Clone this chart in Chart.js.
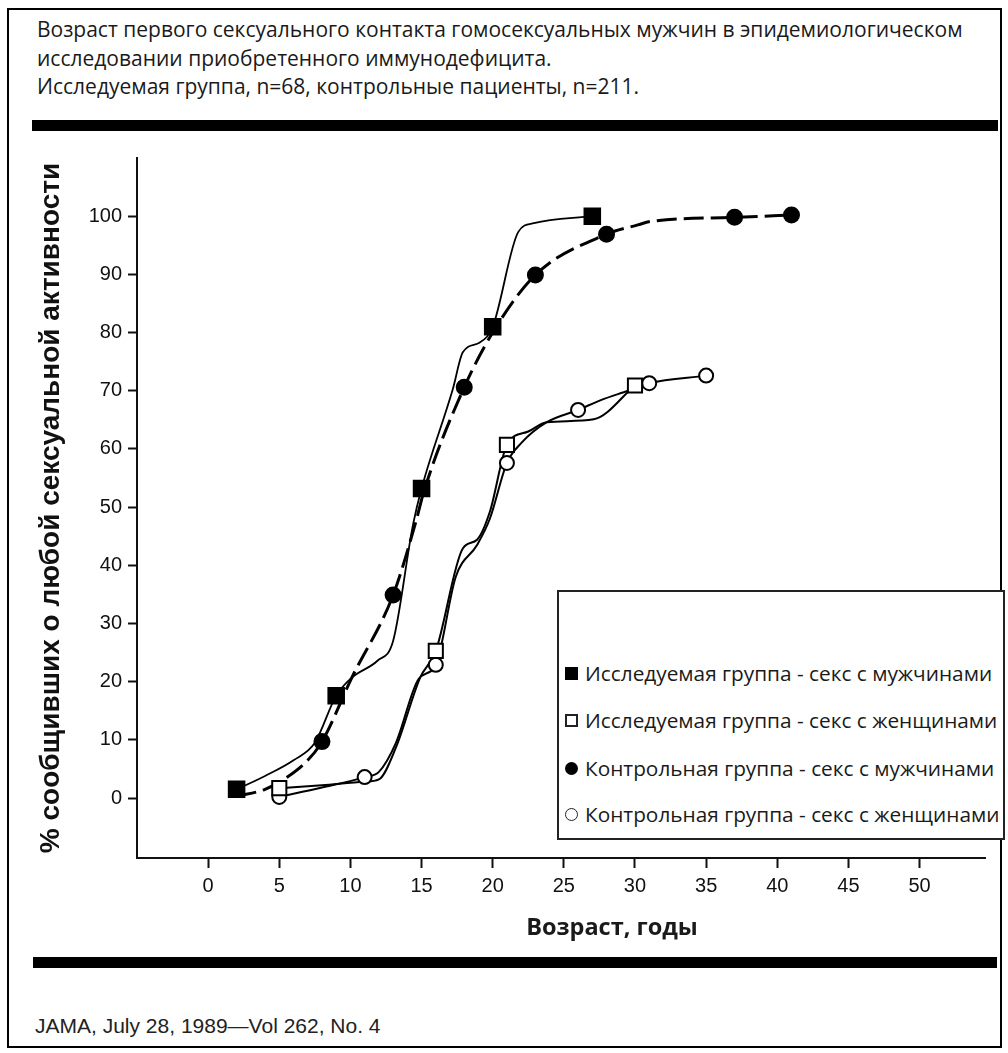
<!DOCTYPE html>
<html><head><meta charset="utf-8">
<script src="https://cdn.jsdelivr.net/npm/chart.js@4.4.0/dist/chart.umd.min.js"></script>
<style>
html,body{margin:0;padding:0;background:#fff;}
body{width:1008px;height:1053px;position:relative;overflow:hidden;font-family:"Open Sans",sans-serif;color:#1a1a1a;}
#frame{position:absolute;left:7px;top:8px;width:995px;height:1040px;border:2px solid #000;box-sizing:border-box;}
#title{position:absolute;left:37px;top:15px;font-size:21px;line-height:28.5px;white-space:nowrap;}
.bar{position:absolute;background:#000;height:11px;}
#chartBox{position:absolute;left:0;top:140px;width:1008px;height:800px;}
#xtitle{position:absolute;top:911px;left:612px;transform:translateX(-50%);font-weight:bold;font-size:23.5px;line-height:30px;white-space:nowrap;}
#footer{position:absolute;left:35px;top:1015px;font-family:"Liberation Sans",Arial,sans-serif;font-size:21px;line-height:21px;white-space:nowrap;color:#222;}
#legend{position:absolute;left:557px;top:590px;width:448px;height:250px;border:2px solid #222;box-sizing:border-box;background:#fff;}
.row{position:absolute;left:26px;font-size:20.8px;line-height:27px;white-space:nowrap;}
.mk{position:absolute;left:6px;width:13px;height:13px;box-sizing:border-box;}
</style>
</head><body>
<div id="frame"></div>
<div id="title">Возраст первого сексуального контакта гомосексуальных мужчин в эпидемиологическом<br>исследовании приобретенного иммунодефицита.<br>Исследуемая группа, n=68, контрольные пациенты, n=211.</div>
<div class="bar" style="left:32px;top:120px;width:966px;"></div>
<div id="chartBox"><canvas id="c"></canvas></div>
<div id="legend"></div>
<div id="xtitle">Возраст, годы</div>
<div class="bar" style="left:33px;top:957px;width:964px;"></div>
<div id="footer">JAMA, July 28, 1989—Vol 262, No. 4</div>
<script>
// ---- data ----
const xTickValues = [0, 5, 10, 15, 20, 25, 30, 35, 40, 45, 50];
const yTickValues = [0, 10, 20, 30, 40, 50, 60, 70, 80, 90, 100];
const seriesNames = [
  "Исследуемая группа - секс с мужчинами",
  "Исследуемая группа - секс с женщинами",
  "Контрольная группа - секс с мужчинами",
  "Контрольная группа - секс с женщинами"
];
const yAxisTitle = "% сообщивших о любой сексуальной активности";

// marker points (age, %)
const studyMenAge = [2, 9, 15, 20, 27];
const studyMenPct = [1.5, 17.6, 53.2, 81, 100];
const studyWomenAge = [5, 16, 21, 30];
const studyWomenPct = [1.7, 25.3, 60.7, 70.9];
const controlMenAge = [8, 13, 18, 23, 28, 37, 41];
const controlMenPct = [9.7, 34.9, 70.6, 89.9, 96.9, 99.8, 100.2];
const controlWomenAge = [5, 11, 16, 21, 26, 31, 35];
const controlWomenPct = [0.2, 3.6, 22.9, 57.6, 66.7, 71.3, 72.6];

// traced curve vertices (age, %)
const studyMenCurveAge = [2, 4, 6, 7.5, 9, 10.1, 11.9, 13, 14.4, 15, 17.2, 17.9, 19.1, 20, 21.8, 22.9, 27];
const studyMenCurvePct = [1.5, 3.8, 6.5, 9.5, 17.6, 20.7, 23.6, 27, 47, 53.2, 70.3, 76.6, 78.3, 81, 97.3, 98.8, 100];
const studyWomenCurveAge = [5, 8, 11, 12, 13.2, 14.9, 16, 17.9, 18.9, 19.8, 21, 22.5, 23.8, 27.1, 30];
const studyWomenCurvePct = [1.7, 2.2, 2.8, 3.2, 8.7, 20.7, 25.3, 42.9, 44.4, 49.2, 60.7, 63, 64.6, 65.1, 70.9];
const controlMenCurveAge = [2, 4, 5.5, 7, 8, 10.1, 13, 14.6, 15.2, 18, 20, 23, 28, 30.2, 31.1, 37, 41];
const controlMenCurvePct = [0.3, 1.5, 3.5, 6.5, 9.7, 20.7, 34.9, 47.5, 53, 70.6, 80, 89.9, 96.9, 98.5, 99.1, 99.8, 100.2];
const controlWomenCurveAge = [5, 8, 11, 12, 13.2, 14.8, 16, 17.4, 18.9, 19.8, 21, 22, 23.8, 26, 27.6, 29.5, 31, 35];
const controlWomenCurvePct = [0.2, 1.8, 3.6, 4.5, 9.5, 20.5, 22.9, 38, 43.5, 48, 57.6, 61, 64.6, 66.7, 68.4, 70, 71.3, 72.6];

// ---- build ----
const pts = (xs, ys) => xs.map((x, i) => ({x: x, y: ys[i]}));

function markerSet(label, xs, ys, style, radius, fill) {
  return {label: label, data: pts(xs, ys), showLine: false, order: 0,
    pointStyle: style, pointRadius: radius, pointHoverRadius: radius,
    pointBackgroundColor: fill, pointBorderColor: '#000', pointBorderWidth: 2};
}
function curveSet(label, xs, ys, width, dash) {
  return {label: label, data: pts(xs, ys), order: 1, pointRadius: 0, borderColor: '#000',
    borderWidth: width, borderDash: dash, fill: false, cubicInterpolationMode: 'monotone'};
}

const datasets = [
  markerSet(seriesNames[0], studyMenAge, studyMenPct, 'rect', 11, '#000'),
  markerSet(seriesNames[1], studyWomenAge, studyWomenPct, 'rect', 10, '#fff'),
  markerSet(seriesNames[2], controlMenAge, controlMenPct, 'circle', 7.5, '#000'),
  markerSet(seriesNames[3], controlWomenAge, controlWomenPct, 'circle', 7, '#fff'),
  curveSet(seriesNames[0], studyMenCurveAge, studyMenCurvePct, 1.8, []),
  curveSet(seriesNames[1], studyWomenCurveAge, studyWomenCurvePct, 2, []),
  curveSet(seriesNames[2], controlMenCurveAge, controlMenCurvePct, 3, [20, 7]),
  curveSet(seriesNames[3], controlWomenCurveAge, controlWomenCurvePct, 2, [])
];

Chart.defaults.font.family = '"Liberation Sans", Arial, sans-serif';
Chart.defaults.color = '#111';

new Chart(document.getElementById('c'), {
  type: 'line',
  data: {datasets: datasets},
  options: {
    responsive: true, maintainAspectRatio: false, animation: false, events: [],
    layout: {padding: {top: 14, right: 23, left: 0, bottom: 0}},
    plugins: {legend: {display: false}, tooltip: {enabled: false}},
    scales: {
      x: {type: 'linear', min: -5, max: 54.6,
        afterBuildTicks: s => { s.ticks = xTickValues.map(v => ({value: v})); },
        afterFit: s => { s.height = 82; },
        grid: {drawOnChartArea: false, tickLength: 10, tickWidth: 2, tickColor: '#111'},
        border: {color: '#111', width: 2},
        ticks: {font: {size: 20}, color: '#111', padding: 6, maxRotation: 0}
      },
      y: {type: 'linear', min: -10.3, max: 110,
        afterBuildTicks: s => { s.ticks = yTickValues.map(v => ({value: v})); },
        afterFit: s => { s.width = 137; },
        grid: {drawOnChartArea: false, tickLength: 9, tickWidth: 2, tickColor: '#111'},
        border: {color: '#111', width: 2},
        ticks: {font: {size: 20}, color: '#111', padding: 6},
        title: {display: true, text: yAxisTitle, color: '#111',
          font: {size: 28, weight: 'bold'}, padding: {top: 34, bottom: 0}}
      }
    }
  }
});

// HTML legend built from series names
const legend = document.getElementById('legend');
const rowTops = [68, 115, 163, 209];
const markerCss = [
  'background:#000;',
  'border:2px solid #222;background:#fff;',
  'background:#000;border-radius:50%;',
  'border:1.5px solid #222;background:#fff;border-radius:50%;'
];
seriesNames.forEach((name, i) => {
  const mk = document.createElement('div');
  mk.className = 'mk';
  mk.style.cssText = markerCss[i] + 'top:' + (rowTops[i] + 7) + 'px;';
  legend.appendChild(mk);
  const row = document.createElement('div');
  row.className = 'row';
  row.style.top = rowTops[i] + 'px';
  row.textContent = name;
  legend.appendChild(row);
});
</script>
</body></html>
